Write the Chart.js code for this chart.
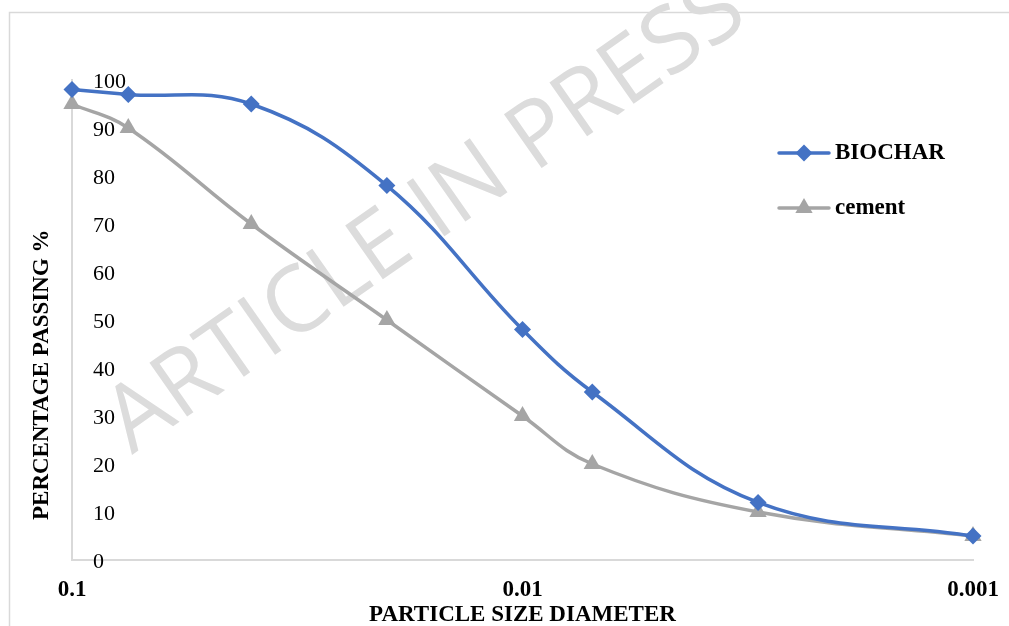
<!DOCTYPE html>
<html>
<head>
<meta charset="utf-8">
<title>Particle size distribution</title>
<script src="https://cdn.jsdelivr.net/npm/chart.js@4/dist/chart.umd.min.js"></script>
<style>
  html, body { margin: 0; padding: 0; background: #ffffff; }
  canvas { display: block; }
</style>
</head>
<body>
<canvas id="chart" width="1009" height="626"></canvas>
<script>
// Sieve sizes (mm) and percentage passing for each material
const particleSizes = [0.1, 0.075, 0.04, 0.02, 0.01, 0.007, 0.003, 0.001];
const biocharPassing = [98, 97, 95, 78, 48, 35, 12, 5];
const cementPassing = [95, 90, 70, 50, 30, 20, 10, 5];
const seriesNames = ['BIOCHAR', 'cement'];

// Axis ticks
const xTickValues = [0.1, 0.01, 0.001];
const xTickLabels = ['0.1', '0.01', '0.001'];
const yMin = 0, yMax = 100, yStep = 10;

const xTitle = 'PARTICLE SIZE DIAMETER';
const yTitle = 'PERCENTAGE PASSING %';
const watermarkText = 'ARTICLE IN PRESS';

const BLUE = '#4472C4';
const GREY = '#A5A5A5';
const AXIS = '#d9d9d9';
const SERIF = "'Liberation Serif', 'Times New Roman', serif";

const toPoints = (ys) => particleSizes.map((x, i) => ({ x: x, y: ys[i] }));

// Outer frame of the chart object
const framePlugin = {
  id: 'frame',
  beforeDraw(chart) {
    const ctx = chart.ctx;
    ctx.save();
    ctx.strokeStyle = AXIS;
    ctx.lineWidth = 1.5;
    ctx.strokeRect(9.5, 12.5, 1200, 800);
    ctx.restore();
  }
};

// Diagonal stamp across the plot
const watermarkPlugin = {
  id: 'watermark',
  beforeDatasetsDraw(chart) {
    const ctx = chart.ctx;
    ctx.save();
    ctx.translate(132, 455);
    ctx.rotate(-35 * Math.PI / 180);
    ctx.font = "92px 'Open Sans', sans-serif";
    ctx.fillStyle = '#dcdcdc';
    ctx.textAlign = 'left';
    ctx.textBaseline = 'alphabetic';
    ctx.fillText(watermarkText, 0, 0);
    ctx.restore();
  }
};

// Vertical axis title, set a little below the middle of the axis
const yTitlePlugin = {
  id: 'yTitle',
  afterDraw(chart) {
    const ctx = chart.ctx;
    ctx.save();
    ctx.translate(42, 520);
    ctx.rotate(-Math.PI / 2);
    ctx.font = 'bold 23px ' + SERIF;
    ctx.fillStyle = '#000';
    ctx.textAlign = 'left';
    ctx.textBaseline = 'middle';
    ctx.fillText(yTitle, 0, 0);
    ctx.restore();
  }
};

// Legend drawn inside the plot, line + marker + name
const legendPlugin = {
  id: 'insideLegend',
  afterDraw(chart) {
    const ctx = chart.ctx;
    const rows = [153, 208];
    chart.data.datasets.forEach((ds, i) => {
      const y = rows[i];
      ctx.save();
      ctx.strokeStyle = ds.borderColor;
      ctx.lineWidth = ds.borderWidth;
      ctx.lineCap = 'round';
      ctx.beginPath();
      ctx.moveTo(779, y);
      ctx.lineTo(829, y);
      ctx.stroke();
      ctx.fillStyle = ds.pointBackgroundColor;
      ctx.strokeStyle = ds.pointBackgroundColor;
      Chart.helpers.drawPoint(ctx, {
        pointStyle: ds.pointStyle,
        radius: ds.pointRadius,
        rotation: 0,
        borderWidth: 0
      }, 804, y);
      ctx.fillStyle = '#000';
      ctx.font = 'bold 23px ' + SERIF;
      ctx.textAlign = 'left';
      ctx.textBaseline = 'middle';
      ctx.fillText(ds.label, 835, y);
      ctx.restore();
    });
  }
};

new Chart(document.getElementById('chart'), {
  type: 'line',
  data: {
    datasets: [
      {
        label: seriesNames[0],
        data: toPoints(biocharPassing),
        borderColor: BLUE,
        backgroundColor: BLUE,
        pointBackgroundColor: BLUE,
        pointBorderColor: BLUE,
        borderWidth: 3.5,
        pointStyle: 'rectRot',
        pointRadius: 8.5,
        pointBorderWidth: 0,
        tension: 0.4,
        fill: false,
        clip: false
      },
      {
        label: seriesNames[1],
        data: toPoints(cementPassing),
        borderColor: GREY,
        backgroundColor: GREY,
        pointBackgroundColor: GREY,
        pointBorderColor: GREY,
        borderWidth: 3.5,
        pointStyle: 'triangle',
        pointRadius: 10,
        pointBorderWidth: 0,
        tension: 0.4,
        fill: false,
        clip: false
      }
    ]
  },
  options: {
    responsive: false,
    animation: false,
    devicePixelRatio: 1,
    layout: { padding: { top: 80, right: 36, bottom: 0, left: 0 } },
    plugins: {
      legend: { display: false },
      tooltip: { enabled: false }
    },
    scales: {
      x: {
        type: 'logarithmic',
        reverse: true,
        min: 0.001,
        max: 0.1,
        afterBuildTicks: (scale) => {
          scale.ticks = xTickValues.map(v => ({ value: v }));
        },
        afterFit: (scale) => {
          scale.height = 66;
          scale.paddingLeft = 0;
          scale.paddingRight = 0;
        },
        grid: { display: false, drawTicks: false },
        border: { display: true, color: AXIS, width: 2 },
        ticks: {
          autoSkip: false,
          maxRotation: 0,
          padding: 16,
          color: '#000',
          font: { family: SERIF, size: 23, weight: 'bold' },
          callback: (value, index) => xTickLabels[index]
        },
        title: {
          display: true,
          text: xTitle,
          color: '#000',
          padding: 0,
          font: { family: SERIF, size: 23, weight: 'bold', lineHeight: 0.95 }
        }
      },
      y: {
        min: yMin,
        max: yMax,
        afterFit: (scale) => { scale.width = 72; },
        grid: { display: false, drawTicks: false },
        border: { display: true, color: AXIS, width: 2 },
        ticks: {
          stepSize: yStep,
          mirror: true,
          padding: 21,
          labelOffset: 2,
          color: '#000',
          font: { family: SERIF, size: 22 }
        },
        title: { display: false }
      }
    }
  },
  plugins: [framePlugin, watermarkPlugin, yTitlePlugin, legendPlugin]
});
</script>
</body>
</html>
